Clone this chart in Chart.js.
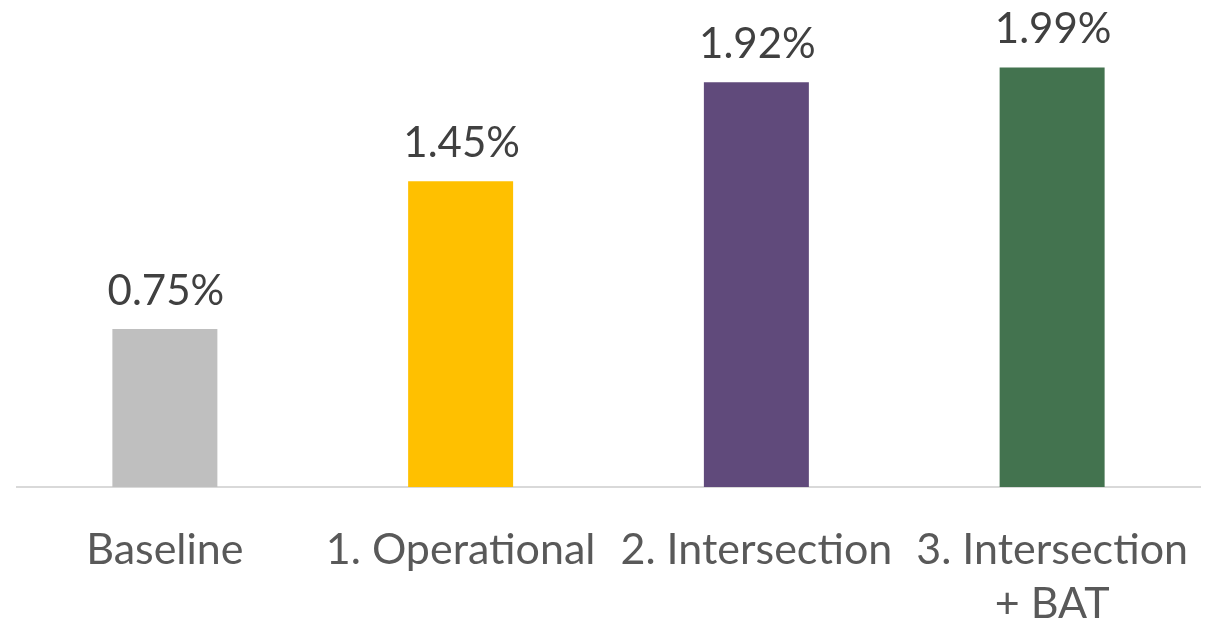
<!DOCTYPE html>
<html>
<head>
<meta charset="utf-8">
<script src="https://cdn.jsdelivr.net/npm/chart.js@4.4.1/dist/chart.umd.min.js"></script>
<style>
  html, body { margin: 0; padding: 0; background: #fff; }
  #wrap { width: 1217px; height: 624px; }
</style>
</head>
<body>
<div id="wrap"><canvas id="barChart"></canvas></div>
<script>
const categories = ['Baseline', '1. Operational', '2. Intersection', ['3. Intersection', '+ BAT']];
const values = [0.75, 1.45, 1.92, 1.99];
const valueLabels = ['0.75%', '1.45%', '1.92%', '1.99%'];
const barColors = ['#bfbfbf', '#ffc000', '#604a7b', '#43734f'];

const FONT = 'Lato, "Open Sans", sans-serif';

// simple value labels above each bar
const topLabels = {
  id: 'topLabels',
  afterDatasetsDraw(chart) {
    const ctx = chart.ctx;
    const meta = chart.getDatasetMeta(0);
    ctx.save();
    ctx.font = '42px ' + FONT;
    ctx.fillStyle = '#404040';
    ctx.textAlign = 'center';
    ctx.textBaseline = 'alphabetic';
    meta.data.forEach((bar, i) => {
      ctx.fillText(valueLabels[i], bar.x + 1, bar.y - 24);
    });
    ctx.restore();
  }
};

document.addEventListener('DOMContentLoaded', function() {
  const ctx = document.getElementById('barChart');
  new Chart(ctx.getContext('2d'), {
    type: 'bar',
    data: {
      labels: categories,
      datasets: [{ data: values, backgroundColor: barColors, categoryPercentage: 1, barPercentage: 0.355 }]
    },
    options: {
      responsive: true,
      maintainAspectRatio: false,
      animation: false,
      layout: { padding: { left: 17, right: 17, top: 0, bottom: 0 } },
      plugins: { legend: { display: false }, tooltip: { enabled: false } },
      scales: {
        x: {
          grid: { display: false, drawTicks: false },
          border: { display: true, color: '#d9d9d9', width: 2 },
          ticks: { color: '#595959', font: { family: FONT, size: 43, lineHeight: 1.25 }, padding: 36, maxRotation: 0, autoSkip: false },
          afterFit: s => { s.height = 137; s.paddingLeft = 0; s.paddingRight = 0; }
        },
        y: { display: false, min: 0, max: 2.31 }
      }
    },
    plugins: [topLabels]
  });
});
</script>
</body>
</html>
